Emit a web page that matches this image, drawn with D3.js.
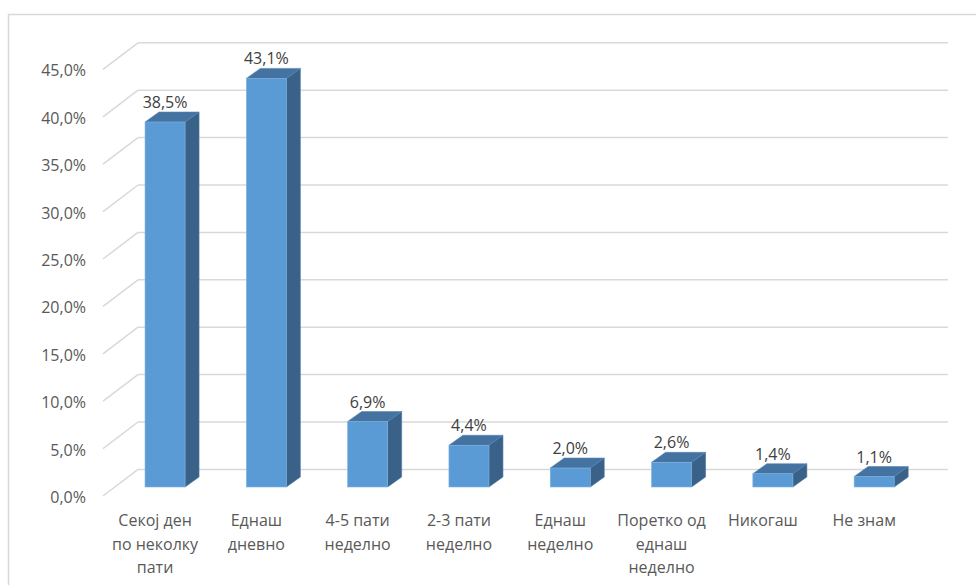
<!DOCTYPE html>
<html>
<head>
<meta charset="utf-8">
<script src="https://cdn.jsdelivr.net/npm/d3@7"></script>
<style>
  html, body { margin: 0; padding: 0; background: #fff; }
  svg { display: block; font-family: "Open Sans", "Noto Sans", sans-serif; }
</style>
</head>
<body>
<svg id="chart" width="976" height="585"></svg>
<script>
const categories = [
  "Секој ден по неколку пати",
  "Еднаш дневно",
  "4-5 пати неделно",
  "2-3 пати неделно",
  "Еднаш неделно",
  "Поретко од еднаш неделно",
  "Никогаш",
  "Не знам"
];
const values = [0.385, 0.431, 0.069, 0.044, 0.020, 0.026, 0.014, 0.011];
const yTicks = [0, 0.05, 0.10, 0.15, 0.20, 0.25, 0.30, 0.35, 0.40, 0.45];

const svg = d3.select("#chart");
const fmt = v => d3.format(".1f")(v * 100).replace(".", ",") + "%";

// outer chart border
svg.append("rect")
  .attr("x", 8.5).attr("y", 14.5).attr("width", 1100).attr("height", 1100)
  .attr("fill", "none").attr("stroke", "#d9d9d9").attr("stroke-width", 1.5);

// 3D projection parameters
const depthX = 35, depthY = 26.6;      // floor depth (back wall -> front edge)
const barDX = 14, barDY = -10;         // bar depth
const backLeft = 138, backRight = 948;

const yBack = d3.scaleLinear().domain([0, 0.45]).range([469.4, 42.8]);
const yFront = d3.scaleLinear().domain([0, 0.45]).range([487, 487 - (469.4 - 42.8)]);

const x = d3.scaleBand().domain(categories)
  .range([114.4, 924.8]).paddingInner(0.605).paddingOuter(0.3025);

// gridlines: back wall + side wall diagonal
const grid = svg.append("g");
yTicks.forEach(t => {
  const yb = yBack(t);
  grid.append("line")
    .attr("x1", backLeft).attr("x2", backRight)
    .attr("y1", yb).attr("y2", yb)
    .attr("stroke", "#d9d9d9").attr("stroke-width", 1.5);
  grid.append("line")
    .attr("x1", backLeft - depthX).attr("y1", yb + depthY)
    .attr("x2", backLeft).attr("y2", yb)
    .attr("stroke", "#d9d9d9").attr("stroke-width", 1.5);
});

// y tick labels
svg.append("g").selectAll("text").data(yTicks).join("text")
  .attr("x", 86)
  .attr("y", d => yBack(d) + depthY + 7)
  .attr("text-anchor", "end")
  .attr("font-size", 16)
  .attr("fill", "#595959")
  .text(fmt);

// bars
const bars = svg.append("g").selectAll("g").data(categories).join("g");
bars.each(function(c, i) {
  const g = d3.select(this);
  const x0 = x(c), x1 = x0 + x.bandwidth();
  const yt = yFront(values[i]), yb = yFront(0);
  // side face
  g.append("path")
    .attr("d", `M${x1},${yb} L${x1 + barDX},${yb + barDY} L${x1 + barDX},${yt + barDY} L${x1},${yt} Z`)
    .attr("fill", "#3a6288").attr("stroke", "#4a77a3").attr("stroke-width", 0.6);
  // top face
  g.append("path")
    .attr("d", `M${x0},${yt} L${x0 + barDX},${yt + barDY} L${x1 + barDX},${yt + barDY} L${x1},${yt} Z`)
    .attr("fill", "#4473a1").attr("stroke", "#5685b5").attr("stroke-width", 0.6);
  // front face
  g.append("rect")
    .attr("x", x0).attr("y", yt)
    .attr("width", x.bandwidth()).attr("height", yb - yt)
    .attr("fill", "#5b9bd5").attr("stroke", "#7fb1df").attr("stroke-width", 0.6);
  // data label
  g.append("text")
    .attr("x", x0 + x.bandwidth() / 2)
    .attr("y", yt + barDY - 4)
    .attr("text-anchor", "middle")
    .attr("font-size", 16)
    .attr("fill", "#404040")
    .text(fmt(values[i]));
});

// category labels (wrapped)
const maxW = 92;
const catG = svg.append("g");
categories.forEach(c => {
  const cx = x(c) + x.bandwidth() / 2 - 10;
  const t = catG.append("text")
    .attr("x", cx).attr("y", 526)
    .attr("text-anchor", "middle")
    .attr("font-size", 16)
    .attr("fill", "#595959");
  const words = c.split(" ");
  let line = [];
  let tspan = t.append("tspan").attr("x", cx).attr("dy", 0);
  words.forEach(w => {
    line.push(w);
    tspan.text(line.join(" "));
    if (tspan.node().getComputedTextLength() > maxW && line.length > 1) {
      line.pop();
      tspan.text(line.join(" "));
      line = [w];
      tspan = t.append("tspan").attr("x", cx).attr("dy", 23.5).text(w);
    }
  });
});
</script>
</body>
</html>
